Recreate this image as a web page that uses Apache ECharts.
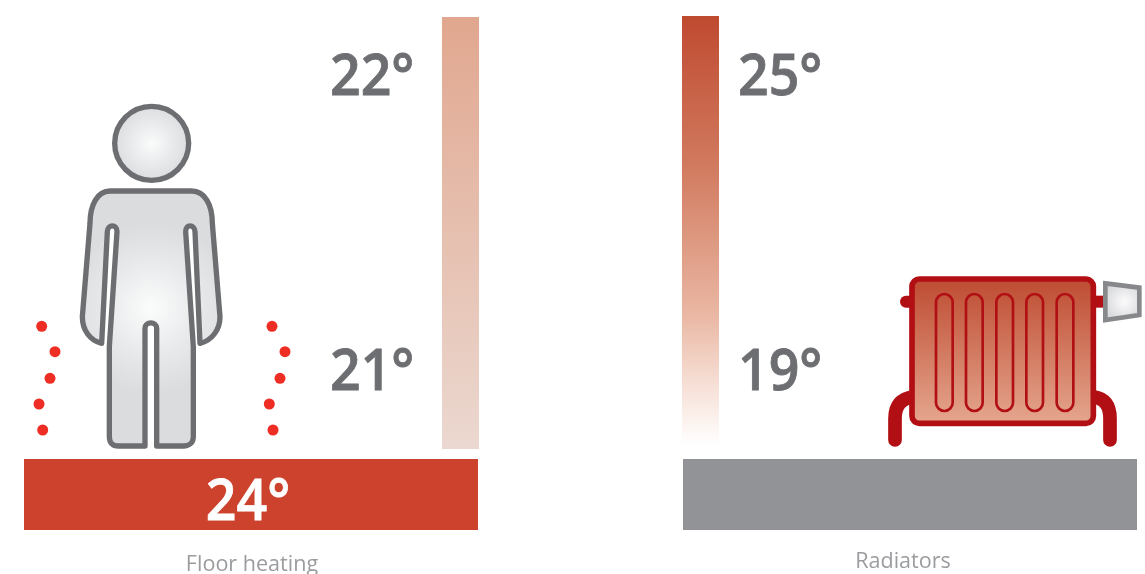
<!DOCTYPE html>
<html><head><meta charset="utf-8">
<style>html,body{margin:0;padding:0;background:#fff}#c{width:1145px;height:574px}</style>
<script src="https://cdn.jsdelivr.net/npm/echarts@6/dist/echarts.min.js"></script>
</head><body><div id="c"></div>
<script>
// Data
const categories = ['Floor heating', 'Radiators'];
const heightTemps = [['22°', '21°'], ['25°', '19°']];
const floorTemps = ['24°', ''];
const columnBands = [[442, 479, 17, 449], [682, 719, 16, 445]];
const floorBands = [[24, 478, 459, 530], [683, 1137, 459, 530]];
const tempLabelPoints = [[330, 78], [330, 373], [738, 78], [738, 373]];
const floorLabelPoint = [248, 503];
const categoryLabelPoints = [[252, 565], [903, 562]];
const heatDots = [[41.7,326.3],[55,351.7],[50,378.3],[39,404],[42.7,430],[272,326.3],[285,351.7],[280,378.3],[269.3,404],[273,430]];
const iconOrigins = [[20, 90], [880, 265]];

const FONT = '"Open Sans", sans-serif';
const grad = (stops) => ({type:'linear',x:0,y:0,x2:0,y2:1,colorStops:stops.map(s=>({offset:s[0],color:s[1]}))});
const columnFills = [
  grad([[0,'#E1A78F'],[1,'#EBD8D0']]),
  grad([[0,'#BF4A30'],[0.35,'#D17A5F'],[0.7,'#EAB8A4'],[0.85,'#F6DDD3'],[1,'#FFFFFF']])
];
const floorFills = ['#CD422C', '#929396'];

const rectSeries = (bands, fills, z) => ({
  type:'custom', coordinateSystem:'cartesian2d', silent:true, z,
  data:bands,
  encode:{x:[0,1],y:[2,3]},
  renderItem(p, api){
    const a = api.coord([api.value(0), api.value(2)]);
    const b = api.coord([api.value(1), api.value(3)]);
    return {type:'rect', shape:{x:a[0],y:a[1],width:b[0]-a[0],height:b[1]-a[1]}, style:{fill:fills[p.dataIndex]}};
  }
});
const textSeries = (points, texts, style, z, squeeze) => ({
  type:'custom', coordinateSystem:'cartesian2d', silent:true, z,
  data:points,
  encode:{x:0,y:1},
  renderItem(p, api){
    const a = api.coord([api.value(0), api.value(1)]);
    return {type:'text', x:a[0], y:a[1], scaleX:squeeze||1, style:Object.assign({x:0,y:0,text:texts[p.dataIndex],verticalAlign:'middle'},style)};
  }
});

// Icons: drawn in a 3x space relative to their origin
const sx = 1/3;
const personFill = {type:'radial',x:0.5,y:0.46,r:0.6,colorStops:[{offset:0,color:'#FBFCFC'},{offset:0.55,color:'#E8E9EA'},{offset:1,color:'#DBDCDE'}]};
const headFill = {type:'radial',x:0.5,y:0.5,r:0.5,colorStops:[{offset:0,color:'#FAFBFB'},{offset:1,color:'#DADBDD'}]};
const bodyPath = 'M270 303 L515 303 C555 303 577 345 577 400 L600 680 C600 720 575 752 540 760 L525 425 C523 402 497 402 497 425 L520 770 L520 1040 C520 1058 508 1068 490 1068 L410 1068 L410 715 C410 693 375 693 375 715 L375 1068 L295 1068 C278 1068 268 1058 268 1040 L268 770 L291 425 C291 402 263 402 262 425 L245 760 C210 752 187 720 187 680 L210 400 C210 345 232 303 270 303 Z';
const radFill = grad([[0,'#BD4A30'],[1,'#E6A890']]);
const RED = '#B20F14';
const fins = [168,258,349,439,530].map(x=>({type:'rect',shape:{x,y:87,width:50,height:351,r:25},style:{fill:'none',stroke:RED,lineWidth:8}}));

const iconParts = [
  [
    {type:'circle',shape:{cx:395,cy:160,r:111},style:{fill:headFill,stroke:'#6D6E71',lineWidth:16}},
    {type:'path',shape:{pathData:bodyPath},style:{fill:personFill,stroke:'#6D6E71',lineWidth:16,lineJoin:'round'}}
  ],
  [
    {type:'path',shape:{pathData:'M78 110 L100 110'},style:{fill:'none',stroke:RED,lineWidth:36,lineCap:'round'}},
    {type:'path',shape:{pathData:'M635 110 L680 110'},style:{fill:'none',stroke:RED,lineWidth:36}},
    {type:'path',shape:{pathData:'M100 395 C65 400 45 420 45 460 L45 525'},style:{fill:'none',stroke:RED,lineWidth:41,lineCap:'round'}},
    {type:'path',shape:{pathData:'M640 395 C672 400 690 420 690 460 L690 525'},style:{fill:'none',stroke:RED,lineWidth:41,lineCap:'round'}},
    {type:'rect',shape:{x:96,y:42,width:544,height:433,r:22},style:{fill:radFill,stroke:RED,lineWidth:17}},
    ...fins,
    {type:'polygon',shape:{points:[[676,55],[778,68],[778,150],[676,165]]},style:{fill:{type:'radial',x:0.55,y:0.5,r:0.6,colorStops:[{offset:0,color:'#FBFBFC'},{offset:1,color:'#D3D4D6'}]},stroke:'#87888B',lineWidth:14}}
  ]
];

const chart = echarts.init(document.getElementById('c'), null, {renderer:'canvas'});
chart.setOption({
  animation:false,
  backgroundColor:'#fff',
  grid:{left:0,right:0,top:0,bottom:0},
  xAxis:{type:'value',min:0,max:1145,show:false},
  yAxis:{type:'value',min:0,max:574,inverse:true,show:false},
  series:[
    rectSeries(columnBands, columnFills, 1),
    rectSeries(floorBands, floorFills, 1),
    {type:'scatter',data:heatDots,symbol:'circle',symbolSize:11,itemStyle:{color:'#EE2E24',opacity:1},silent:true,z:2},
    textSeries(tempLabelPoints, heightTemps.flat(), {fill:'#6D6E71',stroke:'#6D6E71',lineWidth:0.8,font:'600 58px '+FONT,textAlign:'left'}, 3, 0.925),
    textSeries([floorLabelPoint], [floorTemps[0]], {fill:'#FFFFFF',stroke:'#FFFFFF',lineWidth:0.8,font:'600 58px '+FONT,textAlign:'center'}, 3, 0.925),
    textSeries(categoryLabelPoints, categories, {fill:'#9A9C9F',font:'400 22px '+FONT,textAlign:'center'}, 3, 0.98),
    {
      type:'custom', coordinateSystem:'cartesian2d', silent:true, z:5,
      data:iconOrigins,
      encode:{x:0,y:1},
      renderItem(p, api){
        const a = api.coord([api.value(0), api.value(1)]);
        return {type:'group',x:a[0],y:a[1],scaleX:sx,scaleY:sx,children:iconParts[p.dataIndex]};
      }
    }
  ]
});
</script></body></html>
